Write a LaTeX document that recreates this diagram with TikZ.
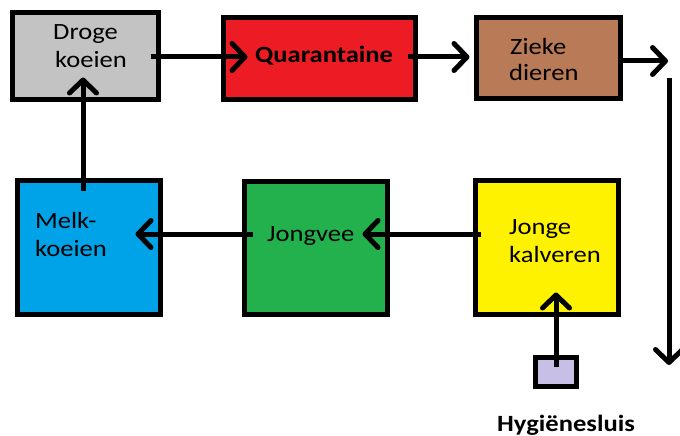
\documentclass[tikz,border=0pt]{standalone}
\usepackage{fontspec}
\setmainfont{Carlito}[FakeStretch=1.14]
\usetikzlibrary{arrows.meta,calc}
\definecolor{cgray}{HTML}{C3C3C3}
\definecolor{cred}{HTML}{ED1C24}
\definecolor{cbrown}{HTML}{B97A57}
\definecolor{cblue}{HTML}{00A2E8}
\definecolor{cgreen}{HTML}{22B14C}
\definecolor{cyellow}{HTML}{FFF200}
\definecolor{clav}{HTML}{C8BFE7}
\begin{document}
\begin{tikzpicture}[x=1pt,y=-1pt,
  box/.style={draw=black,line width=5pt,inner sep=0pt,rectangle},
  txt/.style={inner sep=0pt,anchor=base west,font=\fontsize{23.3pt}{27pt}\selectfont},
  btxt/.style={txt,font=\fontsize{23.3pt}{27pt}\selectfont\bfseries},
  arr/.style={line width=5pt,-{Straight Barb[length=13pt,width=27pt,round]}}]
\useasboundingbox[fill=white] (0,0) rectangle (680,436);
% boxes
\node[box,fill=cgray,minimum width=146pt,minimum height=87pt] (droge) at (85.5,56) {};
\node[box,fill=cred,minimum width=192pt,minimum height=82pt] (quar) at (319.5,58.5) {};
\node[box,fill=cbrown,minimum width=144pt,minimum height=81pt] (zieke) at (548.5,58) {};
\node[box,fill=cblue,minimum width=143pt,minimum height=134pt] (melk) at (89,247.5) {};
\node[box,fill=cgreen,minimum width=143pt,minimum height=133pt] (jongvee) at (316,248) {};
\node[box,fill=cyellow,minimum width=143pt,minimum height=134pt] (jonge) at (547,247.5) {};
\node[box,fill=clav,minimum width=41pt,minimum height=29pt] (hyg) at (556,372) {};
% texts
\node[txt] (t1a) at (53,40) {Droge};
\node[txt] (t1b) at (55,67) {koeien};
\node[btxt] (t2) at (255,63) {Quarantaine};
\node[txt] (t3a) at (510,55) {Zieke};
\node[txt] (t3b) at (509,81) {dieren};
\node[txt] (t4a) at (35,228) {Melk-};
\node[txt] (t4b) at (35,256) {koeien};
\node[txt] (t5) at (267,241) {Jongvee};
\node[txt] (t6a) at (509,234) {Jonge};
\node[txt] (t6b) at (509,262) {kalveren};
\node[btxt] (t7) at (497,431) {Hygiënesluis};
% free ends
\coordinate (out1) at (668,61);
\coordinate (down1) at (669,78);
\coordinate (down2) at (669,365);
% connectors
\draw[arr] ($(droge.east)+(-10.5,1)$) -- ($(quar.west)+(26.5,-1.5)$);
\draw[arr] ($(quar.east)+(-10.5,-1.5)$) -- ($(zieke.west)+(-4.5,-1)$);
\draw[arr] ($(zieke.east)+(-5.5,3)$) -- (out1);
\draw[arr] (down1) -- (down2);
\draw[arr] ($(jonge.west)+(7.5,-13.5)$) -- ($(jongvee.east)+(-27.5,-14)$);
\draw[arr] ($(jongvee.west)+(10.5,-14)$) -- ($(melk.east)+(-27.5,-13.5)$);
\draw[arr] ($(melk.north)+(-6,12.5)$) -- ($(droge.south)+(-2.5,-24.5)$);
\draw[arr] ($(hyg.center)+(0,-5)$) -- ($(jonge.south)+(9,-24.5)$);
\end{tikzpicture}
\end{document}
